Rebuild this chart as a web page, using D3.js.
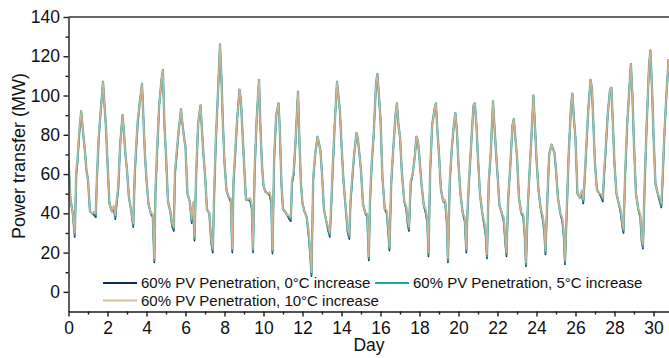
<!DOCTYPE html>
<html>
<head>
<meta charset="utf-8">
<script src="https://cdn.jsdelivr.net/npm/d3@7"></script>
<style>
  html, body { margin: 0; padding: 0; background: #fff; }
  svg { display: block; }
  text { font-family: "Liberation Sans", Arial, sans-serif; fill: #111; }
</style>
</head>
<body>
<svg id="chart" width="669" height="358"></svg>
<script>
// ---- data ----
// sample times within each day (fraction of a day)
const sampleOffsets = [0, 0.10, 0.22, 0.32, 0.40, 0.46, 0.55, 0.65, 0.77, 0.84, 0.92];

const pv0C = [
  [67, 47, 40, 28, 60, 66, 80, 92, 79, 72, 62],
  [57, 41, 40, 39, 38, 58, 78, 92, 107, 96, 84],
  [66, 45, 41, 42, 37, 44, 52, 75, 90, 82, 70],
  [62, 48, 41, 33, 60, 71, 86, 96, 106, 89, 70],
  [57, 45, 40, 38, 15, 50, 72, 95, 108, 113, 85],
  [70, 46, 41, 33, 31, 60, 70, 82, 93, 86, 79],
  [74, 50, 46, 35, 44, 26, 60, 86, 95, 83, 70],
  [60, 42, 40, 25, 20, 45, 75, 98, 126, 110, 85],
  [66, 52, 48, 46, 20, 55, 70, 88, 103, 98, 82],
  [66, 47, 47, 46, 42, 20, 62, 88, 108, 85, 65],
  [54, 51, 50, 49, 45, 19.5, 68, 90, 96, 82, 55],
  [42, 41, 39, 37, 36, 55, 60, 78, 102, 78, 55],
  [45, 41, 38, 28, 18, 8, 57, 70, 79, 76, 72],
  [60, 42, 36, 31, 28, 40, 62, 85, 107, 100, 92],
  [75, 57, 42, 30, 27, 45, 57, 70, 81, 78, 70],
  [62, 45, 40, 38, 16, 45, 65, 80, 106, 111, 100],
  [88, 58, 42, 40, 30, 21, 55, 72, 90, 96, 85],
  [79, 60, 46, 42, 34, 31, 55, 60, 70, 79, 77],
  [68, 55, 44, 40, 35, 18, 62, 85, 93, 96, 82],
  [70, 52, 46, 45, 35, 15, 55, 72, 86, 91, 82],
  [65, 50, 40, 36, 20, 40, 58, 75, 95, 96, 85],
  [68, 50, 40, 34, 28, 17, 55, 70, 97, 85, 72],
  [60, 44, 40, 36, 25, 18, 47, 63, 85, 88, 78],
  [69, 48, 40, 38, 28, 13, 42, 62, 85, 100, 85],
  [68, 52, 42, 37, 30, 19, 45, 70, 75, 73, 71],
  [62, 48, 40, 36, 28, 14, 40, 70, 95, 101, 88],
  [78, 50, 48, 50, 45, 55, 72, 92, 108, 104, 85],
  [65, 52, 50, 48, 46, 58, 72, 90, 103, 104, 85],
  [65, 50, 45, 40, 33, 30, 60, 85, 105, 116, 100],
  [75, 50, 42, 38, 25, 22, 55, 85, 115, 123, 105],
  [80, 55, 50, 46, 43, 55, 78, 98, 118, 110, 90]
];

const pv5C = [
  [67, 47, 40, 29, 61, 67, 81, 92, 79, 72, 62],
  [57, 41, 40, 40, 39, 59, 79, 92, 107, 96, 84],
  [66, 45, 41, 43, 38, 45, 53, 75, 90, 82, 70],
  [62, 48, 41, 34, 61, 72, 87, 96, 106, 89, 70],
  [57, 45, 40, 39, 16, 51, 73, 95, 108, 113, 85],
  [70, 46, 41, 34, 32, 61, 71, 82, 93, 86, 79],
  [74, 50, 46, 36, 45, 27, 61, 86, 95, 83, 70],
  [60, 42, 40, 26, 21, 46, 76, 98, 126, 110, 85],
  [66, 52, 48, 47, 21, 56, 71, 88, 103, 98, 82],
  [66, 47, 47, 47, 43, 21, 63, 88, 108, 85, 65],
  [54, 51, 50, 50, 46, 20.5, 69, 90, 96, 82, 55],
  [42, 41, 39, 38, 37, 56, 61, 78, 102, 78, 55],
  [45, 41, 38, 29, 19, 9, 58, 70, 79, 76, 72],
  [60, 42, 36, 32, 29, 41, 63, 85, 107, 100, 92],
  [75, 57, 42, 31, 28, 46, 58, 70, 81, 78, 70],
  [62, 45, 40, 39, 17, 46, 66, 80, 106, 111, 100],
  [88, 58, 42, 41, 31, 22, 56, 72, 90, 96, 85],
  [79, 60, 46, 43, 35, 32, 56, 60, 70, 79, 77],
  [68, 55, 44, 41, 36, 19, 63, 85, 93, 96, 82],
  [70, 52, 46, 46, 36, 16, 56, 72, 86, 91, 82],
  [65, 50, 40, 37, 21, 41, 59, 75, 95, 96, 85],
  [68, 50, 40, 35, 29, 18, 56, 70, 97, 85, 72],
  [60, 44, 40, 37, 26, 19, 48, 63, 85, 88, 78],
  [69, 48, 40, 39, 29, 14, 43, 62, 85, 100, 85],
  [68, 52, 42, 38, 31, 20, 46, 70, 75, 73, 71],
  [62, 48, 40, 37, 29, 15, 41, 70, 95, 101, 88],
  [78, 50, 48, 51, 46, 56, 73, 92, 108, 104, 85],
  [65, 52, 50, 49, 47, 59, 73, 90, 103, 104, 85],
  [65, 50, 45, 41, 34, 31, 61, 85, 105, 116, 100],
  [75, 50, 42, 39, 26, 23, 56, 85, 115, 123, 105],
  [80, 55, 50, 47, 44, 56, 79, 98, 118, 110, 90]
];

const pv10C = [
  [67, 47, 40, 30, 62, 68, 82, 92, 79, 72, 62],
  [57, 41, 40, 41, 40, 60, 80, 92, 107, 96, 84],
  [66, 45, 41, 44, 39, 46, 54, 75, 90, 82, 70],
  [62, 48, 41, 35, 62, 73, 88, 96, 106, 89, 70],
  [57, 45, 40, 40, 17, 52, 74, 95, 108, 113, 85],
  [70, 46, 41, 35, 33, 62, 72, 82, 93, 86, 79],
  [74, 50, 46, 37, 46, 28, 62, 86, 95, 83, 70],
  [60, 42, 40, 27, 22, 47, 77, 98, 126, 110, 85],
  [66, 52, 48, 48, 22, 57, 72, 88, 103, 98, 82],
  [66, 47, 47, 48, 44, 22, 64, 88, 108, 85, 65],
  [54, 51, 50, 51, 47, 21.5, 70, 90, 96, 82, 55],
  [42, 41, 39, 39, 38, 57, 62, 78, 102, 78, 55],
  [45, 41, 38, 30, 20, 10, 59, 70, 79, 76, 72],
  [60, 42, 36, 33, 30, 42, 64, 85, 107, 100, 92],
  [75, 57, 42, 32, 29, 47, 59, 70, 81, 78, 70],
  [62, 45, 40, 40, 18, 47, 67, 80, 106, 111, 100],
  [88, 58, 42, 42, 32, 23, 57, 72, 90, 96, 85],
  [79, 60, 46, 44, 36, 33, 57, 60, 70, 79, 77],
  [68, 55, 44, 42, 37, 20, 64, 85, 93, 96, 82],
  [70, 52, 46, 47, 37, 17, 57, 72, 86, 91, 82],
  [65, 50, 40, 38, 22, 42, 60, 75, 95, 96, 85],
  [68, 50, 40, 36, 30, 19, 57, 70, 97, 85, 72],
  [60, 44, 40, 38, 27, 20, 49, 63, 85, 88, 78],
  [69, 48, 40, 40, 30, 15, 44, 62, 85, 100, 85],
  [68, 52, 42, 39, 32, 21, 47, 70, 75, 73, 71],
  [62, 48, 40, 38, 30, 16, 42, 70, 95, 101, 88],
  [78, 50, 48, 52, 47, 57, 74, 92, 108, 104, 85],
  [65, 52, 50, 50, 48, 60, 74, 90, 103, 104, 85],
  [65, 50, 45, 42, 35, 32, 62, 85, 105, 116, 100],
  [75, 50, 42, 40, 27, 24, 57, 85, 115, 123, 105],
  [80, 55, 50, 48, 45, 57, 80, 98, 118, 110, 90]
];

const endValue = 70; // value at the start of day 31

const seriesNames = [
  "60% PV Penetration, 0°C increase",
  "60% PV Penetration, 5°C increase",
  "60% PV Penetration, 10°C increase"
];
const seriesColors = ["#0b2a5c", "#3fb3ab", "#cfb392"];

const yTicks = [0, 20, 40, 60, 80, 100, 120, 140];
const yMinorTicks = [10, 30, 50, 70, 90, 110, 130];
const xTicks = [0, 2, 4, 6, 8, 10, 12, 14, 16, 18, 20, 22, 24, 26, 28, 30];
const xMinorTicks = [1, 3, 5, 7, 9, 11, 13, 15, 17, 19, 21, 23, 25, 27, 29];

// ---- layout ----
const svg = d3.select("#chart");
const plotLeft = 68.5, plotRight = 669, plotTop = 17, plotBottom = 311.5;
const pxPerDay = 19.5;

const x = d3.scaleLinear().domain([0, (plotRight - plotLeft) / pxPerDay]).range([plotLeft, plotRight]);
const y = d3.scaleLinear().domain([-10, 140]).range([plotBottom, plotTop]);

svg.append("defs").append("clipPath").attr("id", "plotclip")
  .append("rect").attr("x", plotLeft).attr("y", plotTop)
  .attr("width", plotRight - plotLeft).attr("height", plotBottom - plotTop);

function toPoints(rows) {
  const pts = [];
  rows.forEach((row, d) => row.forEach((v, k) => pts.push([d + sampleOffsets[k], v])));
  pts.push([rows.length, endValue]);
  return pts;
}

const line = d3.line().x(d => x(d[0])).y(d => y(d[1]));

const g = svg.append("g").attr("clip-path", "url(#plotclip)");
g.append("path").datum(toPoints(pv0C)).attr("d", line)
  .attr("fill", "none").attr("stroke", seriesColors[0]).attr("stroke-width", 1.6).attr("stroke-linejoin", "round");
g.append("path").datum(toPoints(pv5C)).attr("d", line)
  .attr("fill", "none").attr("stroke", seriesColors[1]).attr("stroke-width", 2.4).attr("stroke-opacity", 0.75).attr("stroke-linejoin", "round");
g.append("path").datum(toPoints(pv10C)).attr("d", line)
  .attr("fill", "none").attr("stroke", seriesColors[2]).attr("stroke-width", 1.5).attr("stroke-linejoin", "round");

// ---- axes ----
const axisColor = "#1a1a1a";
const fontSize = "17.5px";

// top border
svg.append("line").attr("x1", plotLeft).attr("x2", plotRight).attr("y1", plotTop).attr("y2", plotTop)
  .attr("stroke", "#333").attr("stroke-width", 1.5);

svg.append("g").attr("transform", `translate(${plotLeft},0)`)
  .call(d3.axisLeft(y).tickValues(yTicks).tickSize(5).tickSizeOuter(0).tickPadding(3.5));
svg.append("g").attr("transform", `translate(${plotLeft},0)`)
  .call(d3.axisLeft(y).tickValues(yMinorTicks).tickSize(3).tickSizeOuter(0).tickFormat(""))
  .select(".domain").remove();

svg.append("g").attr("transform", `translate(0,${plotBottom})`)
  .call(d3.axisBottom(x).tickValues(xTicks).tickSize(5).tickSizeOuter(0).tickPadding(5));
svg.append("g").attr("transform", `translate(0,${plotBottom})`)
  .call(d3.axisBottom(x).tickValues(xMinorTicks).tickSize(3).tickSizeOuter(0).tickFormat(""))
  .select(".domain").remove();

svg.selectAll(".domain, .tick line").attr("stroke", axisColor).attr("stroke-width", 1.4);
svg.selectAll(".tick text").attr("font-size", fontSize)
  .attr("font-family", "'Liberation Sans', Arial, sans-serif").attr("fill", "#111");

// axis titles
svg.append("text").attr("x", 369).attr("y", 351).attr("text-anchor", "middle")
  .attr("font-size", fontSize).text("Day");
svg.append("text").attr("transform", "translate(25,156) rotate(-90)").attr("text-anchor", "middle")
  .attr("font-size", "18px").text("Power transfer (MW)");

// ---- legend ----
const legendItems = [
  { name: seriesNames[0], color: seriesColors[0], lx: 103, ly: 283 },
  { name: seriesNames[1], color: "#1aa9a1", lx: 375, ly: 283 },
  { name: seriesNames[2], color: "#d6bd9c", lx: 103, ly: 300.5 }
];
const lg = svg.append("g");
legendItems.forEach(it => {
  lg.append("line").attr("x1", it.lx).attr("x2", it.lx + 34).attr("y1", it.ly).attr("y2", it.ly)
    .attr("stroke", it.color).attr("stroke-width", 2);
  lg.append("text").attr("x", it.lx + 38).attr("y", it.ly).attr("dy", "0.36em")
    .attr("font-size", "15px").text(it.name);
});
</script>
</body>
</html>
